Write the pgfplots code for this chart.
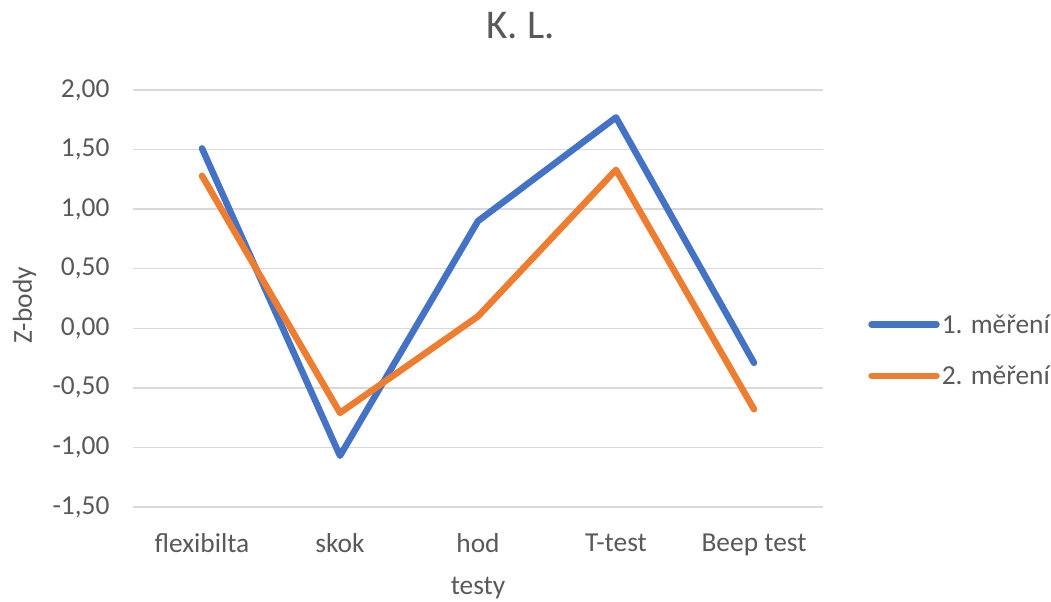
\documentclass[border=0pt]{standalone}
\usepackage{pgfplots}
\pgfplotsset{compat=1.18}
\usepackage{fontspec}
\setmainfont{Carlito}
\definecolor{serA}{HTML}{4472C4}
\definecolor{serB}{HTML}{ED7D31}
\definecolor{txt}{HTML}{595959}
\definecolor{grd}{HTML}{D9D9D9}

\begin{document}
\begin{tikzpicture}[x=1bp,y=1bp]
\path[use as bounding box] (-133,-95) rectangle (918,507);
\begin{axis}[
  at={(0,0)}, anchor=south west,
  scale only axis, width=690bp, height=417bp,
  xmin=-0.5, xmax=4.5, ymin=-1.5, ymax=2,
  xtick={0,1,2,3,4},
  xticklabels={flexibilta, skok, hod, T-test, Beep test},
  ytick={-1.5,-1,-0.5,0,0.5,1,1.5,2},
  axis line style={draw=none},
  major tick length=0pt,
  ymajorgrids, grid style={grd, line width=1.4bp},
  font=\fontsize{27.5}{32}\selectfont\color{txt},
  /pgf/number format/.cd, fixed, fixed zerofill, precision=2, use comma, assume math mode=true,
  /pgfplots/.cd,
  yticklabel style={anchor=east, xshift=-20bp},
  xticklabel style={anchor=north, yshift=-23bp},
  xlabel={testy}, ylabel={Z-body},
  xlabel style={at={(rel axis cs:0.5,-0.195)}, anchor=center},
  ylabel style={at={(rel axis cs:-0.157,0.484)}, anchor=center, rotate=0},
  title={K. L.},
  title style={at={(rel axis cs:0.562,1.14)}, anchor=center, font=\fontsize{41}{48}\selectfont\color{txt}},
  legend style={at={(rel axis cs:1.061,0.376)}, anchor=west, draw=none, fill=none,
    row sep=27bp, font=\fontsize{27.5}{32}\selectfont\color{txt},
    nodes={inner xsep=2bp}},
  legend cell align=left,
  legend image code/.code={\draw[#1, line cap=round] (0bp,0bp) -- (65bp,0bp);},
  every axis plot/.append style={line width=6.5bp, line join=round, line cap=round, mark=none},
]
\addplot[serA] coordinates {(0,1.51) (1,-1.07) (2,0.90) (3,1.77) (4,-0.29)};
\addlegendentry{1. měření}
\addplot[serB] coordinates {(0,1.28) (1,-0.71) (2,0.10) (3,1.33) (4,-0.68)};
\addlegendentry{2. měření}
\end{axis}
\end{tikzpicture}
\end{document}
